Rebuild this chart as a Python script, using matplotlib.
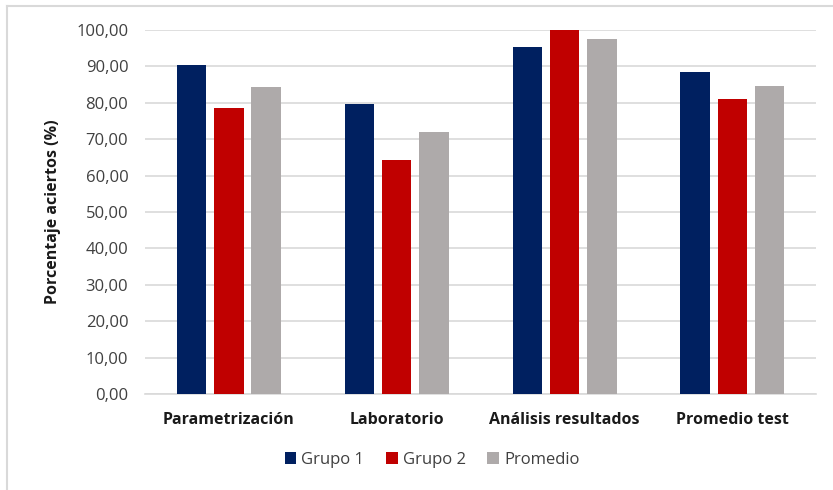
import numpy as np
import matplotlib.pyplot as plt
from matplotlib.lines import Line2D

plt.rcParams['font.family'] = ['Open Sans', 'DejaVu Sans']

# data
categorias = ['Parametrización', 'Laboratorio', 'Análisis resultados', 'Promedio test']
grupo1 = [90.4, 79.6, 95.2, 88.4]
grupo2 = [78.5, 64.3, 100.0, 80.9]
promedio = [84.45, 71.95, 97.6, 84.65]

series = ['Grupo 1', 'Grupo 2', 'Promedio']
colores = ['#002060', '#C00000', '#AEAAAA']

fig = plt.figure(figsize=(8.33, 4.9), dpi=100)
ax = fig.add_axes([0.174, 0.196, 0.806, 0.743])

x = np.arange(len(categorias))
w = 0.175
paso = 0.222
for i, (vals, nom, col) in enumerate(zip([grupo1, grupo2, promedio], series, colores)):
    ax.bar(x + (i - 1) * paso, vals, width=w, color=col, label=nom, zorder=3)

ax.set_xlim(-0.5, len(categorias) - 0.5)
ax.set_ylim(0, 100)
ax.set_yticks(np.arange(0, 101, 10))
ax.set_yticklabels([f'{v:.2f}'.replace('.', ',') for v in np.arange(0, 101, 10)],
                   fontsize=12, color='#404040')
ax.set_xticks(x)
ax.set_xticklabels(categorias, fontsize=11.5, fontweight='bold', color='#1a1a1a')
ax.tick_params(axis='both', length=0)
ax.tick_params(axis='x', pad=13)
ax.tick_params(axis='y', pad=12)

ax.grid(axis='y', color='#d9d9d9', linewidth=1.2, zorder=0)
for s in ['top', 'right', 'left']:
    ax.spines[s].set_visible(False)
ax.spines['bottom'].set_color('#d9d9d9')
ax.spines['bottom'].set_linewidth(1.2)

ax.set_ylabel('Porcentaje aciertos (%)', fontsize=11.5, fontweight='bold', color='#1a1a1a', labelpad=11)

fig.legend(loc='center', bbox_to_anchor=(432 / 833, 1 - 460 / 490), ncol=3, frameon=False,
           fontsize=12, handlelength=0.7, handleheight=0.7, handletextpad=0.3,
           columnspacing=1.3, labelcolor='#404040')

# chart frame (top and left visible)
fig.add_artist(Line2D([7 / 833, 1], [1 - 6 / 490, 1 - 6 / 490], color='#d9d9d9', lw=1.5))
fig.add_artist(Line2D([7 / 833, 7 / 833], [0, 1 - 6 / 490], color='#d9d9d9', lw=1.5))

fig.savefig('out.png', dpi=100)
